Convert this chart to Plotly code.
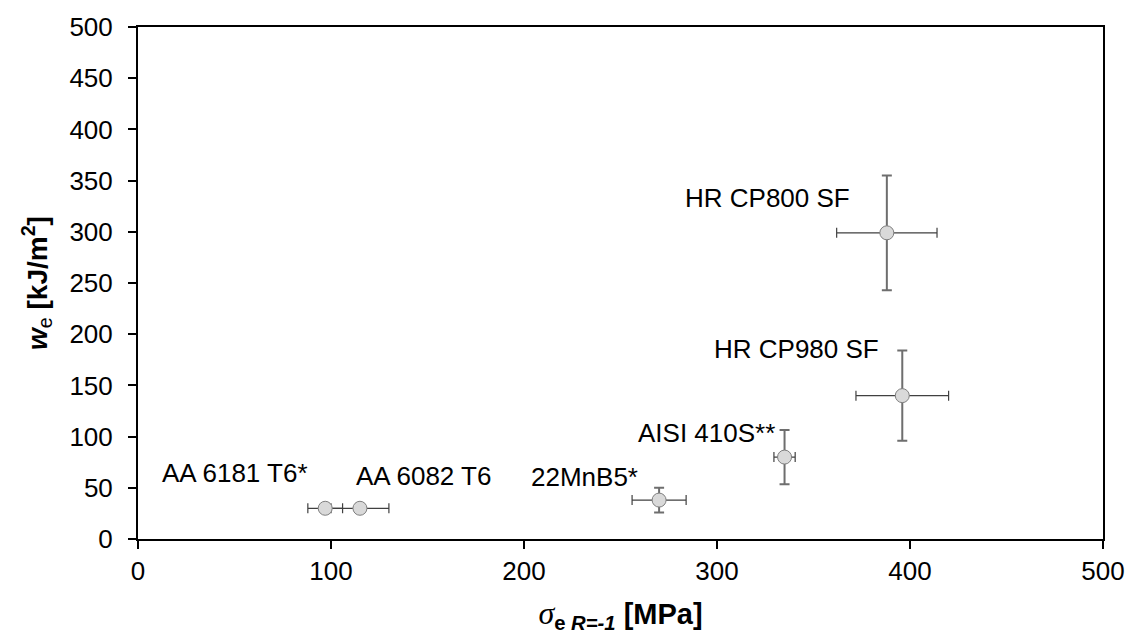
import plotly.graph_objects as go

# Fatigue limit vs. energy parameter for each material
materials = ["AA 6181 T6*", "AA 6082 T6", "22MnB5*", "AISI 410S**", "HR CP980 SF", "HR CP800 SF"]
sigma_e = [97, 115, 270, 335, 396, 388]          # MPa
sigma_err = [9, 15, 14, 5.5, 24, 26]              # MPa
w_e = [30, 30, 38, 80, 140, 299]                  # kJ/m^2
w_err = [2, 2, 12, 26.5, 44, 56]                  # kJ/m^2

# Label offsets from each point, in pixels (dx, dy)
label_shift = [(-90, 35), (64, 32), (-75, 23), (-78, 24), (-106, 47), (-119, 35)]

FONT = "Liberation Sans, Arial, sans-serif"

fig = go.Figure()
fig.add_trace(go.Scatter(
    x=sigma_e, y=w_e, mode="markers",
    marker=dict(size=14, color="#d9d9d9", line=dict(color="#7f7f7f", width=1)),
    error_x=dict(type="data", array=sigma_err, visible=True,
                 color="#404040", thickness=1.2, width=5),
    error_y=dict(type="data", array=w_err, visible=True,
                 color="#6e6e6e", thickness=2, width=5),
    showlegend=False, hoverinfo="skip",
))

for name, x, y, (dx, dy) in zip(materials, sigma_e, w_e, label_shift):
    fig.add_annotation(x=x, y=y, text=name, showarrow=False,
                       xshift=dx, yshift=dy, xanchor="center", yanchor="middle",
                       font=dict(family=FONT, size=26, color="#000000"))

axis_common = dict(
    showgrid=False, zeroline=False, showline=True, linecolor="#000000",
    linewidth=2, mirror=True, ticks="outside", ticklen=8, tickwidth=2,
    tickcolor="#000000", tickfont=dict(family=FONT, size=26, color="#000000"),
)

fig.update_xaxes(
    range=[0, 500], dtick=100, tick0=0, **axis_common,
    title=dict(
        text='<span style="font-family:Liberation Serif;font-size:32px"><i>σ</i></span>'
             '<sub><b>e</b> <b><i>R=-1</i></b></sub> <b>[MPa]</b>',
        font=dict(family=FONT, size=29, color="#000000"), standoff=18),
)
fig.update_yaxes(
    range=[0, 500], dtick=50, tick0=0, ticklabelstandoff=10, **axis_common,
    title=dict(
        text="<b><i>w</i></b><sub>e</sub> <b>[kJ/m<sup>2</sup>]</b>",
        font=dict(family=FONT, size=28, color="#000000"), standoff=14),
)

fig.update_layout(
    width=1137, height=640, autosize=False,
    margin=dict(l=138, r=26, t=18, b=101),
    paper_bgcolor="#ffffff", plot_bgcolor="#ffffff",
)

fig.write_html("out.html", config={"displayModeBar": False})
